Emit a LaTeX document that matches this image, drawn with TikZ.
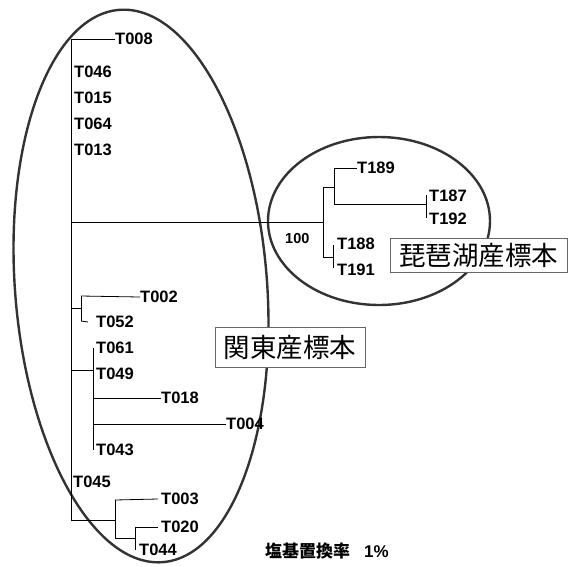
\documentclass[tikz,border=0pt]{standalone}
\usepackage{fontspec}
\setmainfont{Liberation Sans}
\newfontfamily\cjk{Noto Sans CJK JP}
\usetikzlibrary{shapes.geometric}
\begin{document}
\begin{tikzpicture}[x=1pt,y=-1pt,
  leaf/.style={anchor=west,inner sep=0pt,font=\fontsize{16.5}{17}\selectfont\bfseries},
  br/.style={line width=0.8pt,black},
  ring/.style={draw=black!80,line width=2.4pt,ellipse,inner sep=0pt},
  tag/.style={draw=black!60,line width=0.7pt,fill=white,inner sep=0pt,font=\cjk\fontsize{26.5}{28}\selectfont}]
\useasboundingbox (0,0) rectangle (568,566);
% ellipses
\node[ring,minimum width=252pt,minimum height=554pt,rotate=4.5] (kantoring) at (141,286) {};
\node[ring,minimum width=222pt,minimum height=168pt] (biwaring) at (379,221) {};
% internal coordinates
\coordinate (top) at (71,39);
\coordinate (bot) at (71,520);
\coordinate (rb) at (71,222);
\coordinate (bw) at (323,222);
\coordinate (bwt) at (323,187);
\coordinate (bwb) at (323,257);
\coordinate (s1) at (334,187);
\coordinate (s1t) at (334,168);
\coordinate (s1b) at (334,204);
\coordinate (s3) at (426,204);
\coordinate (s3t) at (426,195);
\coordinate (s3b) at (426,218);
\coordinate (s2) at (333,257);
\coordinate (s2t) at (333,245);
\coordinate (s2b) at (333,268);
\coordinate (ca) at (71,308);
\coordinate (cav) at (81,308);
\coordinate (cat) at (81,296);
\coordinate (cab) at (81,321);
\coordinate (cb) at (71,370);
\coordinate (cbv) at (93,370);
\coordinate (cbt) at (93,348);
\coordinate (cbb) at (93,450);
\coordinate (cb18) at (93,398);
\coordinate (cb04) at (93,424);
\coordinate (cc) at (71,520);
\coordinate (ccv) at (115,520);
\coordinate (cct) at (115,500);
\coordinate (ccb) at (115,538);
\coordinate (cd) at (135,538);
\coordinate (cdt) at (135,527);
\coordinate (cdb) at (135,550);
% leaves
\node[leaf] (T008) at (115,39) {T008};
\node[leaf] (T046) at (74,72) {T046};
\node[leaf] (T015) at (74,98) {T015};
\node[leaf] (T064) at (74,124) {T064};
\node[leaf] (T013) at (74,150) {T013};
\node[leaf] (T002) at (140,297) {T002};
\node[leaf] (T052) at (96,322) {T052};
\node[leaf] (T061) at (96,348) {T061};
\node[leaf] (T049) at (96,374) {T049};
\node[leaf] (T018) at (161,398) {T018};
\node[leaf] (T004) at (226,424) {T004};
\node[leaf] (T043) at (96,450) {T043};
\node[leaf] (T045) at (73,482) {T045};
\node[leaf] (T003) at (161,499) {T003};
\node[leaf] (T020) at (161,527) {T020};
\node[leaf] (T044) at (139,550) {T044};
\node[leaf] (T189) at (357,168) {T189};
\node[leaf] (T187) at (429,196) {T187};
\node[leaf] (T192) at (429,219) {T192};
\node[leaf] (T188) at (337,244) {T188};
\node[leaf] (T191) at (337,270) {T191};
\node[leaf,font=\fontsize{14.5}{15}\selectfont\bfseries] (boot) at (285,239) {100};
% branches
\draw[br] (top) -- (bot);
\draw[br] (top) -- (T008.west);
\draw[br] (rb) -- (bw);
\draw[br] (bwt) -- (bwb);
\draw[br] (bwt) -- (s1);
\draw[br] (s1t) -- (s1b);
\draw[br] (s1t) -- (T189.west);
\draw[br] (s1b) -- (s3);
\draw[br] (s3t) -- (s3b);
\draw[br] (bwb) -- (s2);
\draw[br] (s2t) -- (s2b);
\draw[br] (ca) -- (cav);
\draw[br] (cat) -- (cab);
\draw[br] (cat) -- (T002.west);
\draw[br] (cab) -- ([xshift=-8pt]T052.west);
\draw[br] (cb) -- (cbv);
\draw[br] (cbt) -- (cbb);
\draw[br] (cb18) -- (T018.west);
\draw[br] (cb04) -- (T004.west);
\draw[br] (cc) -- (ccv);
\draw[br] (cct) -- (ccb);
\draw[br] (cct) -- ([xshift=-3pt]T003.west);
\draw[br] (ccb) -- (cd);
\draw[br] (cdt) -- (cdb);
\draw[br] (cdt) -- ([xshift=-3pt]T020.west);
% boxes
\node[tag,minimum width=177pt,minimum height=34pt] (biwa) at (478.5,255) {琵琶湖産標本};
\node[tag,minimum width=150pt,minimum height=40pt] (kanto) at (290,347) {関東産標本};
% scale text
\node[anchor=west,inner sep=0pt,font=\fontsize{17}{18}\selectfont\bfseries] (scale) at (265,551) {{\cjk\bfseries 塩基置換率}\hspace{14pt}1\%};
\end{tikzpicture}
\end{document}
